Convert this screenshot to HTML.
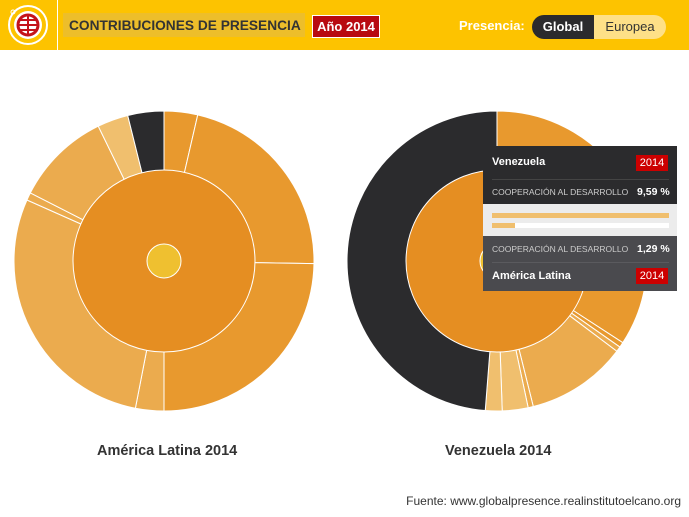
<!DOCTYPE html>
<html><head><meta charset="utf-8"><style>
body{margin:0;width:689px;height:517px;background:#fff;font-family:"Liberation Sans",sans-serif;overflow:hidden;position:relative}
.hdr{position:absolute;left:0;top:0;width:689px;height:50px;background:#FDC300}
.logo{position:absolute;left:0;top:0;width:57px;height:50px;border-right:1px solid #fff}
.title{position:absolute;left:63px;top:13px;width:242px;height:24px;background:#EDBE2A;font-weight:bold;font-size:14px;color:#333;line-height:24px;padding-left:6px;box-sizing:border-box;white-space:nowrap}
.title span{display:inline-block;transform:scaleX(0.98);transform-origin:left}
.ano{position:absolute;left:312px;top:15px;width:66px;height:21px;background:#B80A10;border:1px solid #fff;color:#fff;font-weight:bold;font-size:13px;line-height:21px;text-align:center;white-space:nowrap}
.pres{position:absolute;left:459px;top:18px;color:#fff;font-size:13px;font-weight:bold;white-space:nowrap}
.glob{position:absolute;left:532px;top:15px;width:62px;height:24px;background:#2b2b2d;border-radius:12px 0 0 12px;color:#fff;font-weight:bold;font-size:13px;line-height:24px;text-align:center}
.eur{position:absolute;left:594px;top:15px;width:72px;height:24px;background:#FEE087;border-radius:0 12px 12px 0;color:#333;font-size:13px;line-height:24px;text-align:center}
.lab{position:absolute;top:443px;font-weight:bold;font-size:14.5px;color:#333;white-space:nowrap}
.src{position:absolute;right:8px;top:494px;font-size:12px;color:#333}
.tt{position:absolute;left:483px;top:146px;width:194px;height:145px;font-size:10px}
.tt .row{position:absolute;left:0;width:194px;color:#fff;white-space:nowrap}
</style></head><body>
<div class="hdr">
<div class="logo"><svg width="57" height="50"><circle cx="28" cy="25" r="19" fill="none" stroke="#fff" stroke-width="2"/><circle cx="28" cy="25" r="14" fill="#fff"/><circle cx="28" cy="25" r="10" fill="none" stroke="#C4141B" stroke-width="3"/><path d="M18 25h20M28 15v20M20 20h16M20 30h16" stroke="#C4141B" stroke-width="2"/><circle cx="13" cy="12" r="2" fill="none" stroke="#fff"/></svg></div>
<div class="title"><span>CONTRIBUCIONES DE PRESENCIA</span></div>
<div class="ano">Año 2014</div>
<div class="pres">Presencia:</div>
<div class="glob">Global</div><div class="eur">Europea</div>
</div>
<svg id="s" width="689" height="517" style="position:absolute;left:0;top:0"></svg>
<div class="lab" style="left:97px">América Latina 2014</div>
<div class="lab" style="left:445px">Venezuela 2014</div>
<div class="src">Fuente: www.globalpresence.realinstitutoelcano.org</div>
<div class="tt">
<div class="row" style="top:0;height:58px;background:#2b2b2d"></div>
<div class="row" style="top:10px;left:9px;width:auto;font-size:11px;font-weight:bold">Venezuela</div>
<div class="row" style="top:9px;left:153px;width:32px;height:16px;background:#C00;text-align:center;line-height:16px;font-size:11px">2014</div>
<div class="row" style="left:9px;width:177px;height:1px;top:33px;background:#444"></div>
<div class="row" style="top:41px;left:9px;width:auto;color:#ccc;font-size:8.5px">COOPERACIÓN AL DESARROLLO</div>
<div class="row" style="top:40px;left:154px;width:auto;font-weight:bold;font-size:10.5px">9,59 %</div>
<div class="row" style="top:58px;height:32px;background:#ececec"></div>
<div class="row" style="top:67px;left:9px;width:177px;height:5px;background:#F0BF6E"></div>
<div class="row" style="top:77px;left:9px;width:177px;height:5px;background:#fff"></div>
<div class="row" style="top:77px;left:9px;width:23px;height:5px;background:#F0BF6E"></div>
<div class="row" style="top:90px;height:55px;background:#4a4a4e"></div>
<div class="row" style="top:98px;left:9px;width:auto;color:#ccc;font-size:8.5px">COOPERACIÓN AL DESARROLLO</div>
<div class="row" style="top:97px;left:154px;width:auto;font-weight:bold;font-size:10.5px">1,29 %</div>
<div class="row" style="top:116px;left:9px;width:177px;height:1px;background:#5a5a5e"></div>
<div class="row" style="top:124px;left:9px;width:auto;font-size:11px;font-weight:bold">América Latina</div>
<div class="row" style="top:122px;left:153px;width:32px;height:16px;background:#C00;text-align:center;line-height:16px;font-size:11px">2014</div>
</div>
<script>
var s=document.getElementById('s'),o='';
function p(cx,cy,a,r){a=a*Math.PI/180;return [cx+r*Math.sin(a),cy-r*Math.cos(a)];}
function seg(cx,cy,a0,a1,r0,r1,c){var A=p(cx,cy,a0,r1),B=p(cx,cy,a1,r1),C=p(cx,cy,a1,r0),D=p(cx,cy,a0,r0),l=(a1-a0)>180?1:0;
o+='<path d="M'+A+'A'+r1+','+r1+' 0 '+l+' 1 '+B+'L'+C+'A'+r0+','+r0+' 0 '+l+' 0 '+D+'Z" fill="'+c+'" stroke="#fff" stroke-width="1"/>';}
var M='#E8992E',L='#EBAB4E',LL='#F0BF6E',D='#2b2b2d';
var a=[[0,13,M],[13,91,M],[91,180,M],[180,191,L],[191,294,L],[294,297,L],[297,334,L],[334,346,LL],[346,360,D]];
a.forEach(function(x){seg(164,261,x[0],x[1],90,150,x[2]);});
o+='<circle cx="164" cy="261" r="91" fill="#E58E22" stroke="#fff"/><circle cx="164" cy="261" r="17" fill="#EFC030" stroke="#fff"/>';
var b=[[0,123,M],[123,125,M],[125,127,L],[127,166,L],[166,168,L],[168,178,LL],[178,184.5,LL],[184.5,360,D]];
b.forEach(function(x){seg(497,261,x[0],x[1],90,150,x[2]);});
o+='<circle cx="497" cy="261" r="91" fill="#E58E22" stroke="#fff"/><circle cx="497" cy="261" r="17" fill="#EFC030" stroke="#fff"/>';
s.innerHTML=o;
</script>
</body></html>
